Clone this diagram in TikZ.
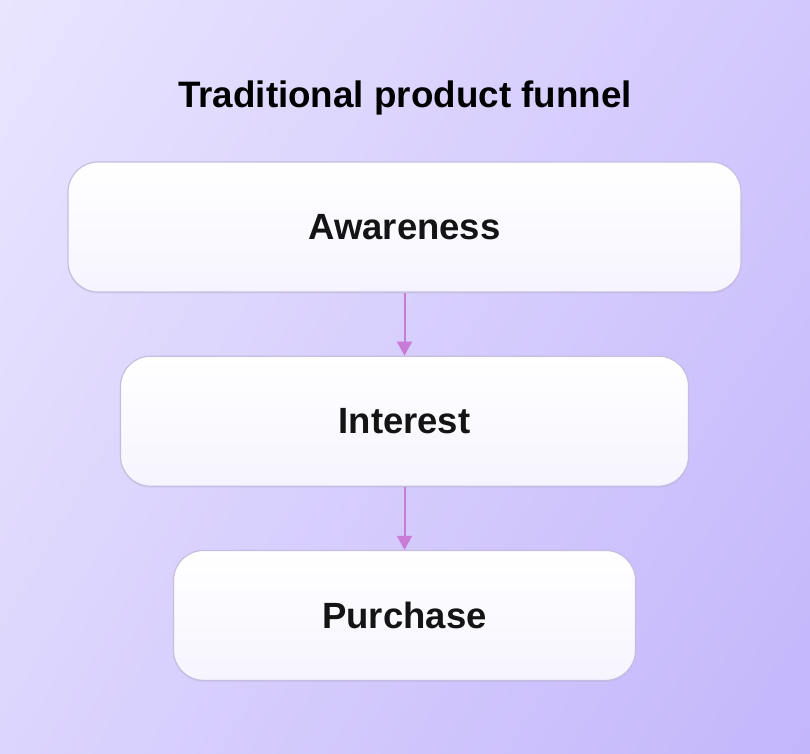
\documentclass[tikz,border=0pt]{standalone}
\usepackage{fontspec}
\setmainfont{Liberation Sans}
\usetikzlibrary{positioning,arrows.meta,shadows,shadings}
\definecolor{bgtl}{HTML}{E9E5FE}
\definecolor{bgtr}{HTML}{D2C8FD}
\definecolor{bgbl}{HTML}{DCD5FD}
\definecolor{bgbr}{HTML}{C3B6FB}
\definecolor{boxline}{HTML}{C6BEE0}
\definecolor{boxlow}{HTML}{F6F4FE}
\definecolor{flow}{HTML}{C87CD6}

\begin{document}
\begin{tikzpicture}[x=1pt, y=-1pt,
    stage/.style={draw=boxline, line width=1.2pt, rounded corners=30pt, top color=white, bottom color=boxlow, minimum height=130pt, font=\fontsize{36.5}{42}\selectfont\bfseries, text=black!92, drop shadow={shadow xshift=0pt, shadow yshift=-1.5pt, opacity=0.05, fill=black}},
    flowarrow/.style={draw=flow, line width=2pt, -{Triangle[width=15pt, length=14pt]}}]
        \shade[upper left=bgtl, upper right=bgtr, lower left=bgbl, lower right=bgbr] (0,0) rectangle (810,753);
        \useasboundingbox (0,0) rectangle (810,753);
        \node[font=\fontsize{36.8}{42}\selectfont\bfseries] (title) at (405,98) {Traditional product funnel};
        \node[stage, minimum width=673pt] (aware) at (404.5,227) {Awareness};
        \node[stage, minimum width=568pt, below=63pt of aware] (interest) {Interest};
        \node[stage, minimum width=462pt, below=63pt of interest] (purchase) {Purchase};
        \draw[flowarrow] (aware) -- (interest);
        \draw[flowarrow] (interest) -- (purchase);
\end{tikzpicture}
\end{document}
